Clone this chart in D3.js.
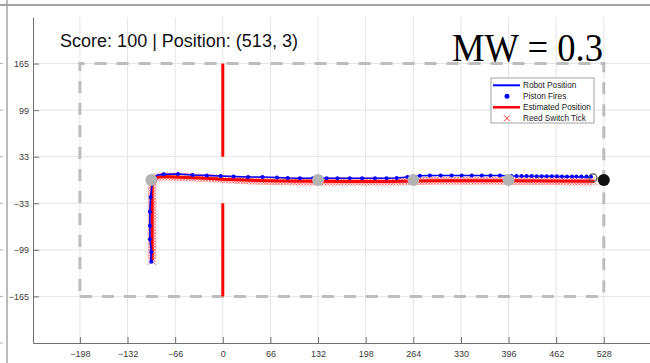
<!DOCTYPE html>
<html>
<head>
<meta charset="utf-8">
<script src="https://cdn.jsdelivr.net/npm/d3@7"></script>
<style>
  body { margin: 0; background: #fff; }
  svg { display: block; font-family: "Liberation Sans", Arial, sans-serif; }
</style>
</head>
<body>
<div id="container"></div>
<script>
// tick labels
var xTicks = [-198, -132, -66, 0, 66, 132, 198, 264, 330, 396, 462, 528];
var yTicks = [-165, -99, -33, 33, 99, 165];

// arena boundary (dashed) and the wall with its gap at x = 0
var arena = [[-198, -165], [528, -165], [528, 165], [-198, 165], [-198, -165]];
var walls = [
  [[0, 165], [0, 33]],
  [[0, -33], [0, -165]]
];

// waypoints (grey) and target (black)
var waypoints = [[-99, 0], [132, 0], [264, 0], [396, 0]];
var target = [528, 0];
var currentPos = [513, 3];

// robot position (blue line)
var robotPath = [
  [-100, -117], [-99, -102], [-101, -84], [-101, -65], [-101, -45], [-100, -24],
  [-98, -6], [-96, 3], [-91, 7], [-82, 8], [-62, 8.5], [-42, 7], [-22, 6.4],
  [-3, 5.7], [15, 5], [35, 4.2], [55, 4.2], [75, 3.5], [90, 2.8], [107, 2.5],
  [125, 2.4], [159, 2.4], [211, 2.4], [227, 2.4], [241, 2.8], [256, 4.2],
  [273, 6.1], [287, 6.4], [384, 6.4], [400, 5.7], [456, 5.3], [513, 4]
];

// piston fires (blue dots)
var pistonFires = [
  [-99, -116], [-99, -102], [-101, -84], [-101, -65], [-101, -45], [-100, -24],
  [-82, 8], [-62, 8.5], [-42, 7], [-22, 6.4], [-3, 5.7], [15, 5], [35, 4.2],
  [55, 4.2], [75, 3.5], [90, 2.8], [107, 2.5], [125, 2.4], [144, 2.4], [159, 2.4],
  [176, 2.4], [193, 2.4], [211, 2.4], [227, 2.4], [241, 2.8], [256, 4.2], [273, 6.1],
  [287, 6.4], [302, 6.4], [317, 6.4], [331, 6.4], [345, 6.4], [359, 6.4], [371, 6.4],
  [384, 6.4], [400, 5.7], [407, 5.7], [414, 5.5], [421, 5.5], [428, 5.5], [435, 5.3],
  [442, 5.3], [449, 5.3], [456, 5.3], [463, 5.3], [470, 5], [477, 5], [484, 5],
  [490, 5], [497, 5], [504, 5], [510, 5]
];

// estimated position (red line)
var estimatedPath = [
  [-98, -114], [-98, -60], [-98, -10], [-96, 0], [-91, 4], [-82, 5], [-60, 4],
  [-30, 3], [0, 1], [40, -0.5], [80, -1.5], [132, -1.8], [180, -2.2], [230, -2],
  [264, -1.5], [300, -1], [350, -1], [396, -1.2], [450, -1.5], [515, -1.8]
];

// reed switch ticks (red x)
var reedTicks = [
  [-98, -115], [-98, -111], [-98, -107], [-98, -103], [-98, -99], [-98, -95], [-98, -91], [-98, -87], [-98, -83], [-98, -79],
  [-98, -75], [-98, -71], [-98, -67], [-98, -63], [-98, -59], [-98, -55], [-98, -51], [-98, -47], [-98, -43], [-98, -39],
  [-98, -35], [-98, -31], [-98, -27], [-98, -23], [-98, -19], [-98, -15], [-98, -11], [-98, -7], [-97, -3], [-96, 1],
  [-93, 3], [-90, 4], [-86, 5],
  [-82, 5], [-78, 5], [-74, 5], [-70, 4.5], [-66, 4.5], [-62, 4.5], [-58, 4], [-54, 4], [-50, 4], [-46, 4],
  [-42, 3.5], [-38, 3.5], [-34, 3.5], [-30, 3], [-26, 3], [-22, 3], [-18, 3], [-14, 2.5], [-10, 2.5], [-6, 2],
  [-2, 1.5], [2, 1.5], [6, 1], [10, 1], [14, 0.5], [18, 0.5], [22, 0], [26, 0], [30, -0.5], [34, -0.5],
  [38, -0.5], [42, -1], [46, -1], [50, -1], [54, -1], [58, -1.5], [62, -1.5], [66, -1.5], [70, -1.5], [74, -1.5],
  [78, -1.5], [82, -1.5], [86, -1.5], [90, -1.5], [94, -1.5], [98, -2], [102, -2], [106, -2], [110, -2], [114, -2],
  [118, -2], [122, -2], [126, -2], [130, -2], [134, -2], [138, -2], [142, -2], [146, -2], [150, -2], [154, -2],
  [158, -2], [162, -2], [166, -2], [170, -2], [174, -2], [178, -2], [182, -2], [186, -2], [190, -2], [194, -2],
  [198, -2], [202, -2], [206, -2], [210, -2], [214, -2], [218, -2], [222, -2], [226, -2], [230, -2], [234, -2],
  [238, -2], [242, -2], [246, -2], [250, -1.5], [254, -1.5], [258, -1.5], [262, -1.5], [266, -1.5], [270, -1.5], [274, -1.5],
  [278, -1.5], [282, -1.5], [286, -1], [290, -1], [294, -1], [298, -1], [302, -1], [306, -1], [310, -1], [314, -1],
  [318, -1], [322, -1], [326, -1], [330, -1], [334, -1], [338, -1], [342, -1], [346, -1], [350, -1], [354, -1],
  [358, -1], [362, -1], [366, -1], [370, -1], [374, -1], [378, -1], [382, -1], [386, -1], [390, -1], [394, -1],
  [398, -1.5], [402, -1.5], [406, -1.5], [410, -1.5], [414, -1.5], [418, -1.5], [422, -1.5], [426, -1.5], [430, -1.5], [434, -1.5],
  [438, -1.5], [442, -1.5], [446, -1.5], [450, -1.5], [454, -1.5], [458, -1.5], [462, -1.5], [466, -1.5], [470, -1.5], [474, -1.5],
  [478, -2], [482, -2], [486, -2], [490, -2], [494, -2], [498, -2], [502, -2], [506, -2], [510, -2], [514, -2]
];

var legendItems = ["Robot Position", "Piston Fires", "Estimated Position", "Reed Switch Tick"];

var width = 650, height = 363;

var svg = d3
  .select("#container")
  .append("svg")
  .attr("width", width)
  .attr("height", height);

var x = d3.scaleLinear().domain([-263, 592]).range([33, 650]);
var y = d3.scaleLinear().domain([-231, 231]).range([343, 17]);

// outer frame pieces of the figure window
svg.append("line")
  .attr("x1", 0).attr("x2", width).attr("y1", 5).attr("y2", 5)
  .attr("stroke", "#a3a3a3").attr("stroke-width", 2);
svg.append("line")
  .attr("x1", 7).attr("x2", 7).attr("y1", 0).attr("y2", height)
  .attr("stroke", "#a3a3a3").attr("stroke-width", 1.5);
svg.selectAll(".sidetick")
  .data(yTicks.concat([-231]))
  .enter()
  .append("line")
  .attr("x1", 0).attr("x2", 3)
  .attr("y1", function (d) { return y(d); })
  .attr("y2", function (d) { return y(d); })
  .attr("stroke", "#b0b0b0").attr("stroke-width", 1);

// grid
svg.append("g")
  .selectAll("line")
  .data(xTicks)
  .enter()
  .append("line")
  .attr("x1", function (d) { return x(d); })
  .attr("x2", function (d) { return x(d); })
  .attr("y1", y.range()[0]).attr("y2", y.range()[1])
  .attr("stroke", "#e4e4e4").attr("stroke-width", 1);
svg.append("g")
  .selectAll("line")
  .data(yTicks)
  .enter()
  .append("line")
  .attr("y1", function (d) { return y(d); })
  .attr("y2", function (d) { return y(d); })
  .attr("x1", x.range()[0]).attr("x2", x.range()[1])
  .attr("stroke", "#e4e4e4").attr("stroke-width", 1);

// axes
var xAxis = svg.append("g")
  .attr("transform", "translate(0," + y.range()[0] + ")")
  .call(d3.axisBottom(x).tickValues(xTicks).tickSizeInner(-6).tickSizeOuter(0).tickPadding(8));
var yAxis = svg.append("g")
  .attr("transform", "translate(" + x.range()[0] + ",0)")
  .call(d3.axisLeft(y).tickValues(yTicks).tickSizeInner(-6).tickSizeOuter(0).tickPadding(4));
[xAxis, yAxis].forEach(function (g) {
  g.attr("font-size", 9).attr("font-family", "Liberation Sans, Arial, sans-serif");
  g.select(".domain").attr("stroke", "#707070");
  g.selectAll(".tick line").attr("stroke", "#707070");
  g.selectAll(".tick text").attr("fill", "#3a3a3a");
});

var line = d3.line()
  .x(function (d) { return x(d[0]); })
  .y(function (d) { return y(d[1]); });

// arena boundary
svg.append("path")
  .attr("d", line(arena))
  .attr("fill", "none")
  .attr("stroke", "#bdbdbd")
  .attr("stroke-width", 3)
  .attr("stroke-dasharray", "12,10");

// walls
svg.selectAll(".wall")
  .data(walls)
  .enter()
  .append("path")
  .attr("d", line)
  .attr("fill", "none")
  .attr("stroke", "#ff0000")
  .attr("stroke-width", 3);

// reed switch ticks
svg.append("g")
  .selectAll("path")
  .data(reedTicks)
  .enter()
  .append("path")
  .attr("d", function (d) {
    var cx = x(d[0]), cy = y(d[1]), s = 4;
    return "M" + (cx - s) + "," + (cy - s) + "L" + (cx + s) + "," + (cy + s) +
      "M" + (cx - s) + "," + (cy + s) + "L" + (cx + s) + "," + (cy - s);
  })
  .attr("stroke", "#ff0000")
  .attr("stroke-opacity", 0.7)
  .attr("stroke-width", 0.7)
  .attr("fill", "none");

// estimated position
svg.append("path")
  .attr("d", line(estimatedPath))
  .attr("fill", "none")
  .attr("stroke", "#ff0000")
  .attr("stroke-width", 3)
  .attr("stroke-linejoin", "round");

// robot position
svg.append("path")
  .attr("d", line(robotPath))
  .attr("fill", "none")
  .attr("stroke", "#0000ff")
  .attr("stroke-width", 1.6)
  .attr("stroke-linejoin", "round");

// piston fires
svg.append("g")
  .selectAll("circle")
  .data(pistonFires)
  .enter()
  .append("circle")
  .attr("cx", function (d) { return x(d[0]); })
  .attr("cy", function (d) { return y(d[1]); })
  .attr("r", 2)
  .attr("fill", "#0000ff");

// waypoints and target
svg.append("g")
  .selectAll("circle")
  .data(waypoints)
  .enter()
  .append("circle")
  .attr("cx", function (d) { return x(d[0]); })
  .attr("cy", function (d) { return y(d[1]); })
  .attr("r", 6)
  .attr("fill", "#b3b3b3");
svg.append("circle")
  .attr("cx", x(currentPos[0])).attr("cy", y(currentPos[1]))
  .attr("r", 4)
  .attr("fill", "none")
  .attr("stroke", "#555")
  .attr("stroke-width", 1.2);
svg.append("circle")
  .attr("cx", x(target[0])).attr("cy", y(target[1]))
  .attr("r", 6)
  .attr("fill", "#111");

// title texts
svg.append("text")
  .attr("x", 179).attr("y", 47)
  .attr("text-anchor", "middle")
  .attr("font-size", 18)
  .attr("fill", "#111")
  .text("Score: 100 | Position: (" + currentPos[0] + ", " + currentPos[1] + ")");

svg.append("text")
  .attr("x", 452).attr("y", 61)
  .attr("font-family", "Liberation Serif, Times New Roman, serif")
  .attr("font-size", 40)
  .attr("textLength", 151)
  .attr("lengthAdjust", "spacingAndGlyphs")
  .attr("fill", "#000")
  .text("MW = 0.3");

// legend
var legend = svg.append("g").attr("transform", "translate(491,78)");
legend.append("rect")
  .attr("width", 103).attr("height", 45)
  .attr("fill", "#fff")
  .attr("stroke", "#8c8c8c")
  .attr("stroke-width", 0.8);
var rows = legend.selectAll(".row")
  .data(legendItems)
  .enter()
  .append("g")
  .attr("transform", function (d, i) { return "translate(0," + (7.3 + i * 11) + ")"; });
rows.append("text")
  .attr("x", 32).attr("y", 3)
  .attr("font-size", 8.2)
  .attr("fill", "#222")
  .text(function (d) { return d; });
rows.each(function (d, i) {
  var g = d3.select(this);
  if (i === 0 || i === 2) {
    g.append("line")
      .attr("x1", 2).attr("x2", 29).attr("y1", 0).attr("y2", 0)
      .attr("stroke", i === 0 ? "#0000ff" : "#ff0000")
      .attr("stroke-width", i === 0 ? 2 : 2.5);
  } else if (i === 1) {
    g.append("circle").attr("cx", 16).attr("cy", 0).attr("r", 2.5).attr("fill", "#0000ff");
  } else {
    g.append("path")
      .attr("d", "M13,-3L19,3M13,3L19,-3")
      .attr("stroke", "#ff0000").attr("stroke-width", 0.8).attr("fill", "none");
  }
});
</script>
</body>
</html>
